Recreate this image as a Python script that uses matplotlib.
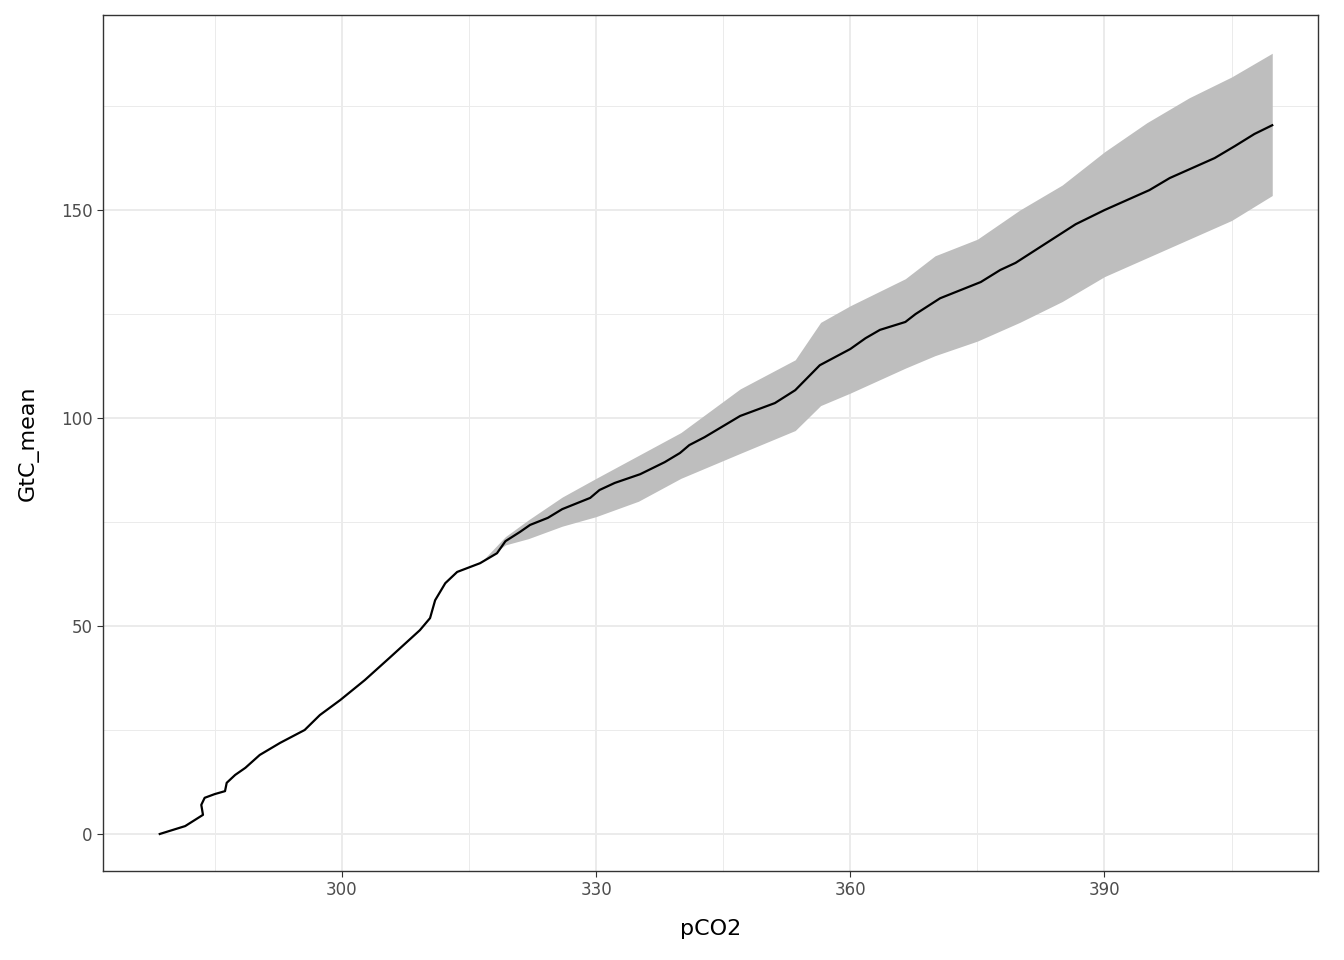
import matplotlib
matplotlib.use("Agg")
import matplotlib.pyplot as plt
import numpy as np

pco2 = [278.5,281.5,283.6,283.4,283.8,285,286.2,286.4,287.4,288.6,290.3,292.7,295.6,297.4,299.8,302.7,305.7,309.2,310.4,311,312.2,313.6,316.3,318.3,319.3,321,322.2,324.3,326,329.3,330.4,332.2,335.2,338.1,339.9,341,342.8,347,351.1,353.5,356.4,360,361.8,363.5,366.5,367.7,370.6,375.4,377.7,379.5,382.4,386.6,390,395.3,397.7,403,405.4,407.7,409.8]
gtc_mean = [0,1.9,4.6,7,8.7,9.6,10.3,12.3,14.2,15.9,19,21.9,25,28.6,32.2,37,42.5,49,51.9,56.2,60.3,63,65.1,67.5,70.4,72.6,74.3,76,78.1,80.8,82.7,84.4,86.5,89.4,91.6,93.5,95.4,100.5,103.6,106.7,112.7,116.6,119.2,121.2,123.1,125,128.8,132.7,135.6,137.3,141.1,146.6,150,154.8,157.7,162.5,165.4,168.3,170.4]

rib_x  = [316.3,319.3,322,326,330,335,340,347,353.5,356.5,360,366.5,370,375,380,385,390,395,400,405,409.8]
rib_lo = [65.1,69.5,71,74,76.3,80,85.5,91.5,97,103,106,112,115,118.5,123,128,134,138.5,143,147.5,153.5]
rib_hi = [65.1,71.5,75.5,81,85.5,91,96.5,107,114,123,127,133.5,139,143,150,156,164,171,177,182,187.7]

fig = plt.figure(figsize=(13.44, 9.6), dpi=100)
ax = fig.add_axes([103/1344, 1-871/960, (1318-103)/1344, (871-15)/960])
ax.fill_between(rib_x, rib_lo, rib_hi, color="#BEBEBE", lw=0, zorder=2)
ax.plot(pco2, gtc_mean, color="black", lw=1.6, zorder=3)
ax.set_xlim(271.8, 415.2)
ax.set_ylim(-8.9, 196.9)
ax.set_xticks([300,330,360,390])
ax.set_yticks([0,50,100,150])
ax.set_xticks([285,315,345,375,405], minor=True)
ax.set_yticks([25,75,125,175], minor=True)
ax.grid(which="major", color="#EBEBEB", lw=1.4, zorder=0)
ax.grid(which="minor", color="#EBEBEB", lw=0.7, zorder=0)
ax.tick_params(which="minor", length=0)
ax.tick_params(which="major", length=4, color="#333333", labelcolor="#4D4D4D", labelsize=12)
for s in ax.spines.values():
    s.set_color("#333333"); s.set_linewidth(1)
ax.set_xlabel("pCO2", fontsize=16, labelpad=14)
ax.set_ylabel("GtC_mean", fontsize=16, labelpad=16)
fig.savefig("out.png", dpi=100)
